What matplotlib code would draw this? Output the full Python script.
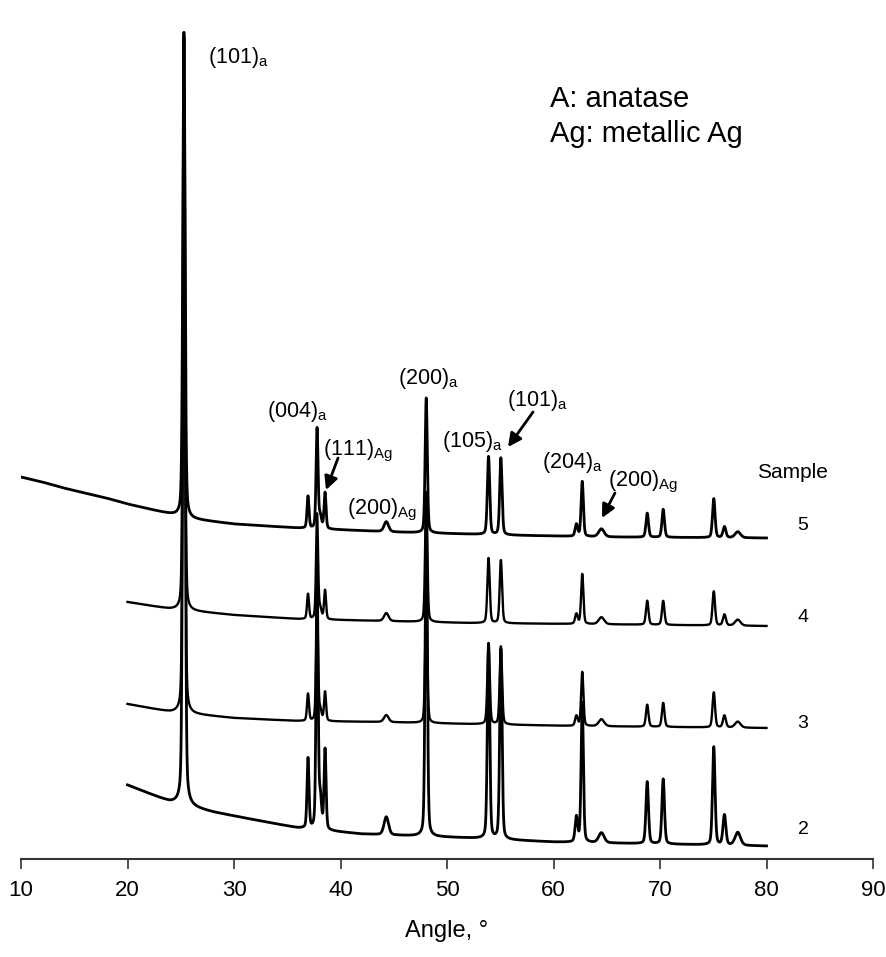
import numpy as np
import matplotlib
matplotlib.use("Agg")
import matplotlib.pyplot as plt

plt.rcParams['font.family'] = ['Liberation Sans', 'DejaVu Sans']
plt.rcParams['mathtext.fontset'] = 'custom'
plt.rcParams['mathtext.rm'] = 'Liberation Sans'
plt.rcParams['mathtext.it'] = 'Liberation Sans:italic'
plt.rcParams['mathtext.bf'] = 'Liberation Sans:bold'

# ---------------- data ----------------
samples = ["2", "3", "4", "5"]

# peak positions (2theta, deg) and widths (FWHM, deg)
peak_pos = [25.3, 36.95, 37.8, 38.1, 38.55, 44.3, 48.05, 53.9, 55.06,
            62.15, 62.7, 64.5, 68.8, 70.3, 75.05, 76.05, 77.3]
peak_fwhm = [0.25, 0.22, 0.22, 0.28, 0.22, 0.5, 0.24, 0.26, 0.26,
             0.28, 0.25, 0.6, 0.28, 0.28, 0.28, 0.32, 0.6]

# peak heights per sample (plot units, above local background)
heights_2 = [768, 70, 260, 30, 80, 18, 340, 195, 190, 25, 140, 10, 62, 65, 98, 30, 13]
heights_3 = [560, 27, 115, 10, 29, 7, 125, 80, 78, 10, 54, 7, 22, 24, 35, 12, 6]
heights_4 = [440, 25, 105, 10, 29, 8, 130, 65, 63, 10, 50, 7, 24, 24, 34, 11, 6]
heights_5 = [485, 32, 100, 12, 36, 10, 135, 78, 77, 12, 55, 8, 24, 28, 39, 11, 6]

# background (incl. stacking offset) knots per sample
bg_x_2 = [20, 24, 28, 32, 36, 42, 52, 60, 80]
bg_y_2 = [74, 57, 47, 39, 31, 25, 21, 17, 13]
bg_x_3 = [20, 24, 30, 36, 44, 52, 62, 80]
bg_y_3 = [155, 147, 141, 138, 137, 135, 133, 131]
bg_x_4 = [20, 24, 30, 36, 44, 52, 62, 80]
bg_y_4 = [257, 250, 244, 240, 238, 236, 235, 233]
bg_x_5 = [10, 12, 14, 16, 18, 20, 22, 24, 26, 30, 36, 45, 55, 65, 80]
bg_y_5 = [382, 377, 371, 366, 361, 355, 350, 345, 340, 335, 331, 327, 324, 322, 321]

start_angle = {"2": 20, "3": 20, "4": 20, "5": 10}
end_angle = 80
heights = {"2": heights_2, "3": heights_3, "4": heights_4, "5": heights_5}
bgs = {"2": (bg_x_2, bg_y_2), "3": (bg_x_3, bg_y_3),
       "4": (bg_x_4, bg_y_4), "5": (bg_x_5, bg_y_5)}
line_w = {"2": 2.0, "3": 1.7, "4": 1.7, "5": 2.0}

x_ticks = [10, 20, 30, 40, 50, 60, 70, 80, 90]


def profile(x, pos, fwhm, h, eta=0.3):
    out = np.zeros_like(x)
    for p, w, a in zip(pos, fwhm, h):
        d = (x - p) / (w / 2.0)
        lor = 1.0 / (1.0 + d ** 2)
        gau = np.exp(-np.log(2) * d ** 2)
        out += a * (eta * lor + (1 - eta) * gau)
    return out


# ---------------- figure ----------------
W, H = 886, 957
fig = plt.figure(figsize=(W / 100, H / 100), dpi=100)
ax_left, ax_right = 21, 873
ax_bottom, ax_top = 859, 30
ax = fig.add_axes([ax_left / W, 1 - ax_bottom / H,
                   (ax_right - ax_left) / W, (ax_bottom - ax_top) / H])
ax.set_xlim(10, 90)
ax.set_ylim(0, ax_bottom - ax_top)

for s in samples:
    x = np.arange(start_angle[s], end_angle + 1e-9, 0.01)
    bx, by = bgs[s]
    y = np.interp(x, bx, by) + profile(x, peak_pos, peak_fwhm, heights[s])
    ax.plot(x, y, color='black', lw=line_w[s], solid_joinstyle='round')

for sp in ['left', 'right', 'top']:
    ax.spines[sp].set_visible(False)
ax.spines['bottom'].set_linewidth(1.5)
ax.spines['bottom'].set_color('#333333')
ax.set_yticks([])
ax.set_xticks(x_ticks)
ax.tick_params(axis='x', direction='out', length=7, width=1.2, color='#333333',
               labelsize=16, pad=8)
ax.set_xlabel("Angle, °", fontsize=17, labelpad=14)

# peak labels
lab_fs = 15.5
labels = [
    (27.55, 796, r"(101)$_\mathrm{a}$"),
    (33.10, 442, r"(004)$_\mathrm{a}$"),
    (38.36, 404, r"(111)$_\mathrm{Ag}$"),
    (40.61, 345, r"(200)$_\mathrm{Ag}$"),
    (45.40, 475, r"(200)$_\mathrm{a}$"),
    (49.53, 412, r"(105)$_\mathrm{a}$"),
    (55.63, 453, r"(101)$_\mathrm{a}$"),
    (58.92, 391, r"(204)$_\mathrm{a}$"),
    (65.12, 373, r"(200)$_\mathrm{Ag}$"),
]
for lx, ly, t in labels:
    ax.text(lx, ly, t, fontsize=lab_fs, ha='left', va='baseline')

arrows = [((39.77, 401), (38.64, 369)),
          ((58.08, 447), (55.73, 412)),
          ((65.77, 366), (64.55, 341))]
for (x0, y0), (x1, y1) in arrows:
    ax.annotate("", xy=(x1, y1), xytext=(x0, y0),
                arrowprops=dict(arrowstyle='-|>', color='black', lw=2.0,
                                mutation_scale=20, shrinkA=0, shrinkB=0))

ax.text(59.65, 752, "A: anatase", fontsize=21, ha='left', va='baseline')
ax.text(59.65, 717, "Ag: metallic Ag", fontsize=21, ha='left', va='baseline')

ax.text(79.1, 381, "Sample", fontsize=15, ha='left', va='baseline')
sample_label_y = {"5": 334, "4": 241, "3": 136, "2": 29}
for s in samples:
    ax.text(83.43, sample_label_y[s], s, fontsize=14, ha='center', va='center')

fig.savefig("out.png", dpi=100, facecolor='white')
